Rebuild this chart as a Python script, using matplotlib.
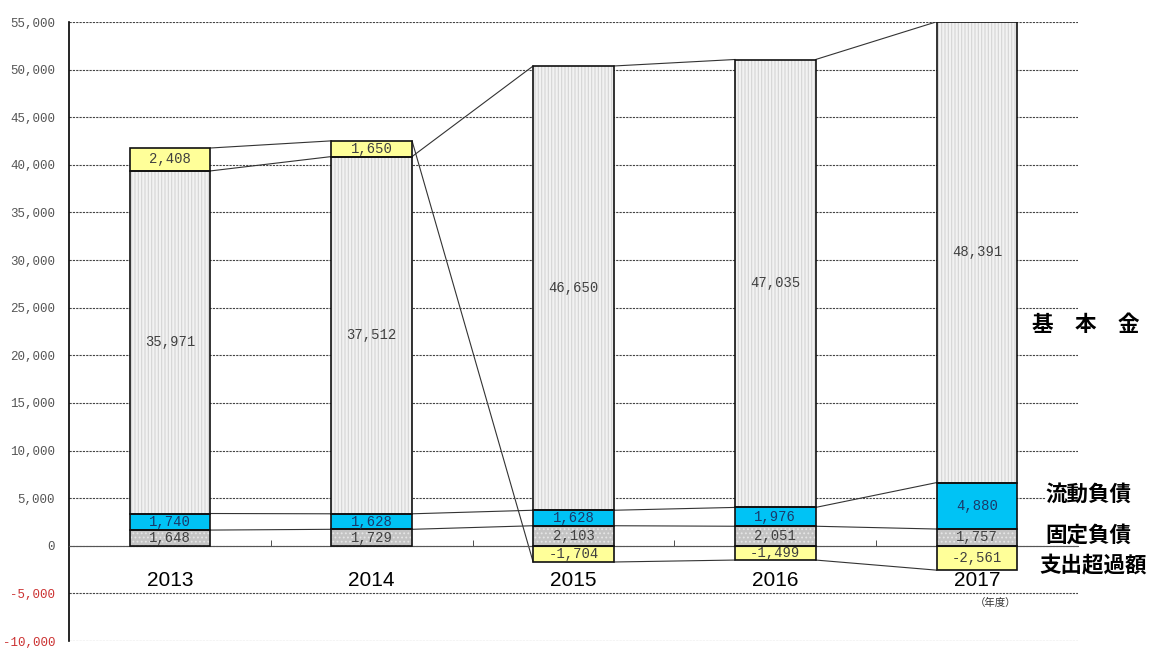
import matplotlib
matplotlib.use('Agg')
import matplotlib.pyplot as plt
import numpy as np
from matplotlib.ticker import FuncFormatter, MultipleLocator, FixedLocator

# data (millions of yen)
years = ['2013', '2014', '2015', '2016', '2017']
fixed_debt = [1648, 1729, 2103, 2051, 1757]        # 固定負債
current_debt = [1740, 1628, 1628, 1976, 4880]      # 流動負債
base_fund = [35971, 37512, 46650, 47035, 48391]    # 基本金
balance = [2408, 1650, -1704, -1499, -2561]        # 支出超過額 / 収入超過

series_names = ['固定負債', '流動負債', '基　本　金', '支出超過額']
label_x = [4.34, 4.34, 4.27, 4.31]
label_y = [1150, 5430, 23200, -1980]

plt.rcParams['font.family'] = ['Liberation Sans', 'DejaVu Sans']
plt.rcParams['hatch.linewidth'] = 0.8

fig = plt.figure(figsize=(11.55, 6.48), dpi=100)
ax = fig.add_axes([69 / 1155, 7 / 648, (1078 - 69) / 1155, (641 - 22) / 648])

x = np.arange(len(years))
w = 0.4

fixed = np.array(fixed_debt)
cur = np.array(current_debt)
base = np.array(base_fund)
bal = np.array(balance)

b_cur = fixed
b_base = fixed + cur
b_bal = np.where(bal > 0, fixed + cur + base, 0)

segs = [
    (fixed, np.zeros(len(x)), '#c4c4c4', '....', '#e6e6e6', '#404040'),
    (cur, b_cur, '#00c3f5', None, None, '#1a3a6a'),
    (base, b_base, '#f2f2f2', '|||||', '#d4d4d4', '#404040'),
    (bal, b_bal, '#ffff99', None, None, '#404040'),
]

for vals, bottom, fc, hatch, hc, tc in segs:
    if hatch:
        ax.bar(x, vals, w, bottom=bottom, color=fc, edgecolor=hc, hatch=hatch,
               linewidth=0, zorder=2)
    else:
        ax.bar(x, vals, w, bottom=bottom, color=fc, linewidth=0, zorder=2)
    ax.bar(x, vals, w, bottom=bottom, fill=False, edgecolor='#111111',
           linewidth=1.2, zorder=3)
    for xi, v, b in zip(x, vals, bottom):
        ax.text(xi, b + v / 2, f'{v:,}', ha='center', va='center',
                fontsize=10, color=tc, family='Liberation Mono', zorder=4)

# series lines between bars
ends = [fixed, fixed + cur, fixed + cur + base, np.where(bal > 0, fixed + cur + base + bal, bal)]
for e in ends:
    for i in range(len(x) - 1):
        ax.plot([x[i] + w / 2, x[i + 1] - w / 2], [e[i], e[i + 1]],
                color='#333333', linewidth=0.8, zorder=1.5)

# series names at right
for name, xv, yv in zip(series_names, label_x, label_y):
    ax.text(xv, yv, name, ha='left', va='center', fontsize=15.5,
            fontweight='bold', family=['Noto Sans CJK JP', 'DejaVu Sans'],
            bbox=dict(facecolor='white', edgecolor='none', pad=0),
            clip_on=False, zorder=5)

ax.text(4.09, -6000, '（年度）', ha='center', va='center', fontsize=7.5,
        color='#333333', family=['Noto Sans CJK JP', 'DejaVu Sans'])

ax.set_xlim(-0.5, 4.5)
ax.set_ylim(-10000, 55000)

ax.yaxis.set_major_locator(MultipleLocator(5000))
ax.yaxis.set_major_formatter(FuncFormatter(lambda v, p: f'{int(v):,}'))
ax.tick_params(axis='y', length=0, pad=10, labelsize=9, labelcolor='#555555')
for lab in ax.get_yticklabels():
    lab.set_family('Liberation Mono')
fig.canvas.draw()
for lab, v in zip(ax.get_yticklabels(), ax.get_yticks()):
    if v < 0:
        lab.set_color('#cc3333')

ax.grid(axis='y', color='#444444', linestyle=(0, (2, 1)), linewidth=0.8, zorder=0)
ax.set_axisbelow(True)

ax.spines['bottom'].set_position(('data', 0))
ax.spines['bottom'].set_color('#555555')
ax.spines['top'].set_visible(False)
ax.spines['right'].set_visible(False)
ax.spines['left'].set_linewidth(1.2)

ax.set_xticks(x)
ax.set_xticklabels(years, fontsize=15)
ax.tick_params(axis='x', which='major', length=0, pad=18)
ax.xaxis.set_minor_locator(FixedLocator(x[:-1] + 0.5))
ax.tick_params(axis='x', which='minor', direction='in', length=4, color='#333333')

fig.savefig('out.png', dpi=100)
